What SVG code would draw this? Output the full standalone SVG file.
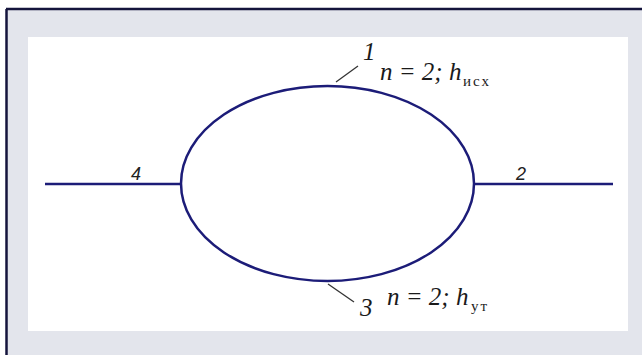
<svg xmlns="http://www.w3.org/2000/svg" width="642" height="355" viewBox="0 0 642 355">
<style>
.wire{fill:none;stroke:#1c1c78;stroke-width:2.5}
.lead{fill:none;stroke:#333;stroke-width:1.3}
.num{font-family:"Liberation Sans",Arial,sans-serif;font-style:italic;font-size:18px;fill:#222}
.eq{font-family:"Liberation Serif","Times New Roman",serif;font-style:italic;font-size:25px;fill:#1a1a1a}
.sub{font-family:"Liberation Serif","Times New Roman",serif;font-size:15px;letter-spacing:2px;fill:#1a1a1a}
</style>
<rect x="0" y="0" width="642" height="355" fill="#ffffff"/>
<rect x="6" y="9" width="636" height="346" fill="#e3e5ec"/>
<line x1="6" y1="9" x2="642" y2="9" stroke="#14143c" stroke-width="2.5"/>
<line x1="6.5" y1="9" x2="6.5" y2="355" stroke="#14143c" stroke-width="2.5"/>
<rect x="28" y="37" width="600" height="294" fill="#ffffff"/>
<g id="connectors">
<line class="wire" x1="45" y1="184" x2="181" y2="184"/>
<line class="wire" x1="474" y1="184" x2="613" y2="184"/>
<line class="lead" x1="336" y1="82" x2="358" y2="66"/>
<line class="lead" x1="328" y1="284" x2="354" y2="302"/>
</g>
<g id="ring">
<ellipse class="wire" cx="327.5" cy="183.5" rx="146.5" ry="97.5"/>
</g>
<g id="label1">
<text class="eq" x="363" y="60" font-size="16">1</text>
<text class="eq" x="380" y="80">n = 2; h</text>
<text class="sub" x="463" y="86">исх</text>
</g>
<g id="label3">
<text class="eq" x="360" y="316" font-size="19">3</text>
<text class="eq" x="387" y="305">n = 2; h</text>
<text class="sub" x="471" y="311">ут</text>
</g>
<g id="label4"><text class="num" x="131" y="180">4</text></g>
<g id="label2"><text class="num" x="516" y="180">2</text></g>
</svg>
